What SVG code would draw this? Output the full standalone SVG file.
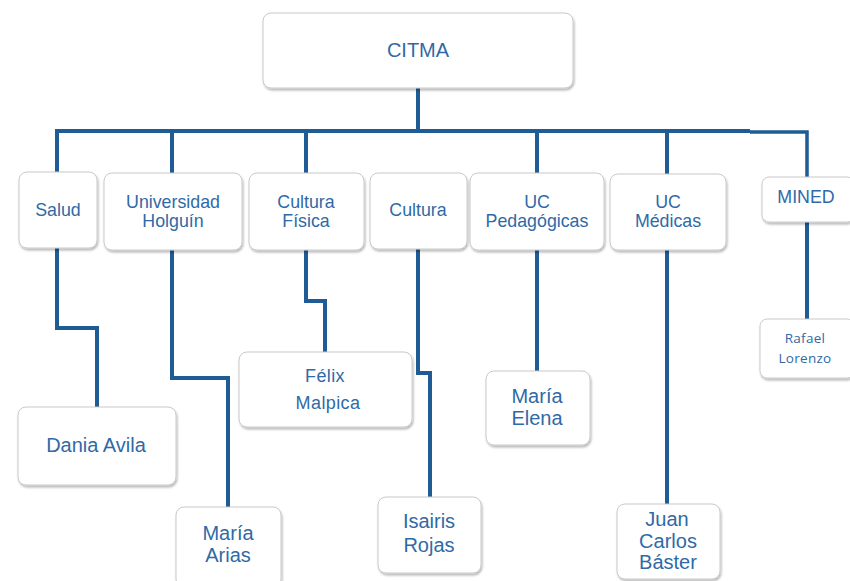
<svg xmlns="http://www.w3.org/2000/svg" width="850" height="581" viewBox="0 0 850 581">
<defs>
<filter id="sh" x="-10%" y="-10%" width="130%" height="130%">
<feDropShadow dx="1" dy="2" stdDeviation="1.2" flood-color="#000" flood-opacity="0.28"/>
</filter>
<style>
.box{fill:#fff;stroke:#c9c9c9;stroke-width:1;filter:url(#sh)}
.t{font-family:"Liberation Sans",Arial,sans-serif;fill:#2f6aa6;text-anchor:middle}
.s17{font-size:17.8px}
.s20{font-size:20px}
.s18{font-size:18px}
.cal{font-family:"Open Sans","Noto Sans",sans-serif;font-size:13.5px;fill:#2f6aa6;text-anchor:middle;letter-spacing:0.3px}
.ln{fill:none;stroke:#1f5b94;stroke-width:4;stroke-linejoin:miter}
</style>
</defs>
<rect width="850" height="581" fill="#fff"/>
<g id="connectors">
<path class="ln" d="M418,88 V131"/>
<path class="ln" d="M57,172 V131 H750"/>
<path class="ln" d="M750,132 H807 V177" style="stroke-width:3.5"/>
<path class="ln" d="M172,173 V131"/>
<path class="ln" d="M306,173 V131"/>
<path class="ln" d="M537,173 V131"/>
<path class="ln" d="M667,174 V131"/>
<path class="ln" d="M57,248 V328 H97 V407"/>
<path class="ln" d="M172,250 V378 H228 V507"/>
<path class="ln" d="M306,250 V301 H325 V352"/>
<path class="ln" d="M418,249 V373 H430 V497"/>
<path class="ln" d="M537,250 V371"/>
<path class="ln" d="M667,250 V504"/>
<path class="ln" d="M807,222 V319"/>
</g>
<g id="citma"><rect class="box" x="263" y="13" width="310" height="75" rx="8"/><text class="t" x="418" y="57" font-size="20">CITMA</text></g>
<g id="salud"><rect class="box" x="19" y="172" width="78" height="76" rx="8"/><text class="t s17" x="58" y="216">Salud</text></g>
<g id="universidad"><rect class="box" x="104" y="173" width="138" height="77" rx="8"/><text class="t s17" x="173" y="208">Universidad</text><text class="t s17" x="173" y="227">Holguín</text></g>
<g id="cultura-fisica"><rect class="box" x="249" y="173" width="115" height="77" rx="8"/><text class="t s17" x="306" y="208">Cultura</text><text class="t s17" x="306" y="227">Física</text></g>
<g id="cultura"><rect class="box" x="370" y="173" width="97" height="76" rx="8"/><text class="t s17" x="418" y="216">Cultura</text></g>
<g id="uc-pedagogicas"><rect class="box" x="470" y="173" width="134" height="77" rx="8"/><text class="t s17" x="537" y="208">UC</text><text class="t s17" x="537" y="227">Pedagógicas</text></g>
<g id="uc-medicas"><rect class="box" x="610" y="174" width="116" height="76" rx="8"/><text class="t s17" x="668" y="208">UC</text><text class="t s17" x="668" y="227">Médicas</text></g>
<g id="mined"><rect class="box" x="762" y="177" width="92" height="45" rx="7"/><text class="t s17" x="806" y="203">MINED</text></g>
<g id="dania"><rect class="box" x="18" y="407" width="158" height="78" rx="8"/><text class="t s20" x="96" y="452">Dania Avila</text></g>
<g id="maria-arias"><rect class="box" x="176" y="507" width="105" height="80" rx="8"/><text class="t s20" x="228" y="540">María</text><text class="t s20" x="228" y="562">Arias</text></g>
<g id="felix"><rect class="box" x="239" y="352" width="173" height="75" rx="8"/><text class="t s18" x="325" y="382" letter-spacing="0.4">Félix</text><text class="t s18" x="328" y="409" letter-spacing="0.4">Malpica</text></g>
<g id="isairis"><rect class="box" x="378" y="497" width="103" height="76" rx="8"/><text class="t s20" x="429" y="528">Isairis</text><text class="t s20" x="429" y="552">Rojas</text></g>
<g id="maria-elena"><rect class="box" x="486" y="371" width="104" height="74" rx="8"/><text class="t s20" x="537" y="403">María</text><text class="t s20" x="537" y="425">Elena</text></g>
<g id="juan"><rect class="box" x="617" y="504" width="103" height="75" rx="8"/><text class="t s20" x="667" y="526">Juan</text><text class="t s20" x="668" y="548">Carlos</text><text class="t s20" x="668" y="569">Báster</text></g>
<g id="rafael"><rect class="box" x="760" y="319" width="94" height="59" rx="7"/><text class="cal" x="805" y="343">Rafael</text><text class="cal" x="805" y="363">Lorenzo</text></g>
</svg>
